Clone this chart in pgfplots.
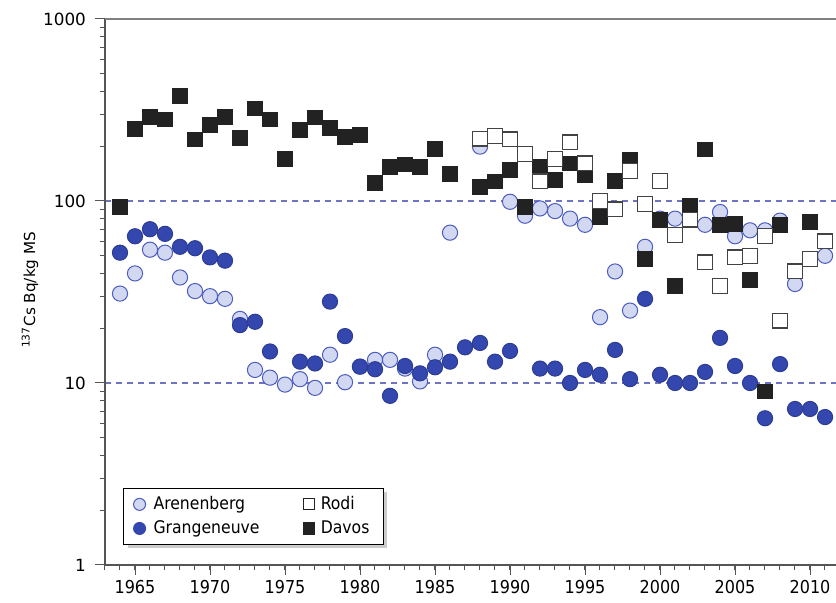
\documentclass[border=0pt]{standalone}
\usepackage{fontspec}
\setmainfont{DejaVu Sans}
\newfontfamily\cond{DejaVu Sans Condensed}
\usepackage{pgfplots}
\pgfplotsset{compat=1.18}
\usetikzlibrary{shadows}
\definecolor{arefill}{HTML}{D3D8F2}
\definecolor{aredraw}{HTML}{4A5CBF}
\definecolor{grange}{HTML}{3447AE}
\definecolor{davos}{HTML}{222222}
\definecolor{dashc}{HTML}{6E73C4}
\definecolor{axgray}{HTML}{555555}

\pgfplotstableread{
year val
1964 31
1965 40
1966 54
1967 52
1968 38
1969 32
1970 30
1971 29
1972 22.5
1973 11.8
1974 10.7
1975 9.8
1976 10.5
1977 9.4
1978 14.3
1979 10.1
1980 12.3
1981 13.4
1982 13.4
1983 12.0
1984 10.2
1985 14.3
1986 67
1988 199
1990 99
1991 83
1992 91
1993 88
1994 80
1995 74
1996 23
1997 41
1998 25
1999 56
2000 80
2001 80
2003 74
2004 87
2005 64
2006 69
2007 69
2008 78
2009 35
2011 50
}\arenenberg

\pgfplotstableread{
year val
1964 52
1965 64
1966 70
1967 66
1968 56
1969 55
1970 49
1971 47
1972 20.8
1973 21.7
1974 14.9
1976 13.1
1977 12.8
1978 28
1979 18.1
1980 12.3
1981 11.9
1982 8.5
1983 12.4
1984 11.3
1985 12.2
1986 13.1
1987 15.7
1988 16.6
1989 13.1
1990 15.0
1992 12.0
1993 12.0
1994 10.0
1995 11.8
1996 11.1
1997 15.2
1998 10.5
1999 29
2000 11.1
2001 10.0
2002 10.0
2003 11.5
2004 17.7
2005 12.4
2006 10.0
2007 6.4
2008 12.7
2009 7.2
2010 7.2
2011 6.5
}\grangeneuve

\pgfplotstableread{
year val
1964 93
1965 248
1966 290
1967 281
1968 378
1969 218
1970 262
1971 290
1972 223
1973 323
1974 281
1975 170
1976 245
1977 288
1978 251
1979 224
1980 231
1981 126
1982 154
1983 159
1984 154
1985 193
1986 141
1988 120
1989 128
1990 148
1991 93
1992 154
1993 130
1994 161
1995 139
1996 82
1997 129
1998 169
1999 48
2000 79
2001 34
2002 94
2003 192
2004 74
2005 75
2006 37
2007 9.0
2008 74
2010 77
}\davos

\pgfplotstableread{
year val
1988 220
1989 228
1990 218
1991 181
1992 128
1993 170
1994 210
1995 161
1996 100
1997 90
1998 146
1999 96
2000 129
2001 65
2002 79
2003 46
2004 34
2005 49
2006 50
2007 64
2008 22
2009 41
2010 48
2011 60
}\rodi

\begin{document}
\begin{tikzpicture}
\begin{axis}[
  at={(0,0)}, anchor=south west,
  scale only axis, width=365.5pt, height=273pt,
  xmin=1963, xmax=2011.73,
  ymode=log, ymin=1, ymax=1000,
  axis line style={draw=none},
  xtick={1965,1970,...,2010},
  minor xtick={1963,...,2011},
  ytick={1,10,100,1000},
  yticklabels={1,10,100,1000},
  minor ytick={2,3,4,5,6,7,8,9,20,30,40,50,60,70,80,90,200,300,400,500,600,700,800,900},
  xtick pos=left, ytick pos=left,
  tick align=outside,
  major tick length=5pt, minor tick length=2.5pt,
  every tick/.style={axgray, line width=0.5pt},
  xticklabel style={font=\cond\fontsize{8.9}{10}\selectfont, yshift=1pt},
  yticklabel style={font=\fontsize{8.4}{9}\selectfont, xshift=-1pt},
  /pgf/number format/assume math mode=true,
  /pgf/number format/1000 sep={},
  every axis y label/.style={at={(axis description cs:-0.1026,0.504)}, rotate=90, anchor=center},
  ylabel={\fontsize{7.6}{9}\selectfont\textsuperscript{137}Cs Bq/kg MS},
  clip=false,
  legend columns=2,
  legend cell align=left,
  legend style={at={(axis description cs:0.0246,0.0366)}, anchor=south west,
    draw=black, line width=0.6pt, fill=white,
    drop shadow={opacity=0.4, shadow xshift=2pt, shadow yshift=-2pt},
    font=\cond\fontsize{8.7}{10}\selectfont,
    /tikz/every even column/.append style={column sep=20pt},
    row sep=0pt, inner xsep=5pt, inner ysep=2pt},
]
\draw[dashc, line width=0.6pt, dash pattern=on 3pt off 2.5pt] (axis cs:1963,10) -- (axis cs:2011.73,10);
\draw[dashc, line width=0.6pt, dash pattern=on 3pt off 2.5pt] (axis cs:1963,100) -- (axis cs:2011.73,100);

\addplot[only marks, mark=*, mark size=3.8pt, mark options={fill=arefill, draw=aredraw, line width=0.5pt}, forget plot] table[x=year, y=val] {\arenenberg};
\addplot[only marks, mark=*, mark size=3.8pt, mark options={fill=grange, draw=grange!85!black, line width=0.5pt}, forget plot] table[x=year, y=val] {\grangeneuve};
\addplot[only marks, mark=square*, mark size=3.7pt, mark options={fill=davos, draw=davos, line width=0.4pt}, forget plot] table[x=year, y=val] {\davos};
\addplot[only marks, mark=square*, mark size=3.7pt, mark options={fill=white, draw=davos!85, line width=0.6pt}, forget plot] table[x=year, y=val] {\rodi};

\addlegendimage{only marks, mark=*, mark size=3pt, mark options={fill=arefill, draw=aredraw, line width=0.5pt}}
\addlegendimage{only marks, mark=square*, mark size=2.8pt, mark options={fill=white, draw=davos, line width=0.5pt}}
\addlegendimage{only marks, mark=*, mark size=3pt, mark options={fill=grange, draw=grange, line width=0.5pt}}
\addlegendimage{only marks, mark=square*, mark size=2.8pt, mark options={fill=davos, draw=davos}}
\legend{\hspace{2pt}Arenenberg, \hspace{1pt}Rodi, \hspace{2pt}Grangeneuve, \hspace{1pt}Davos}

\draw[axgray, line width=0.7pt] (rel axis cs:0,1) -- (rel axis cs:0,0) -- (rel axis cs:1,0);
\draw[gray, line width=0.7pt] (rel axis cs:0,1) -- (rel axis cs:1,1);
\end{axis}
\pgfresetboundingbox
\path[use as bounding box] (-52.5pt,-19pt) rectangle (365.5pt,282.5pt);
\end{tikzpicture}
\end{document}
